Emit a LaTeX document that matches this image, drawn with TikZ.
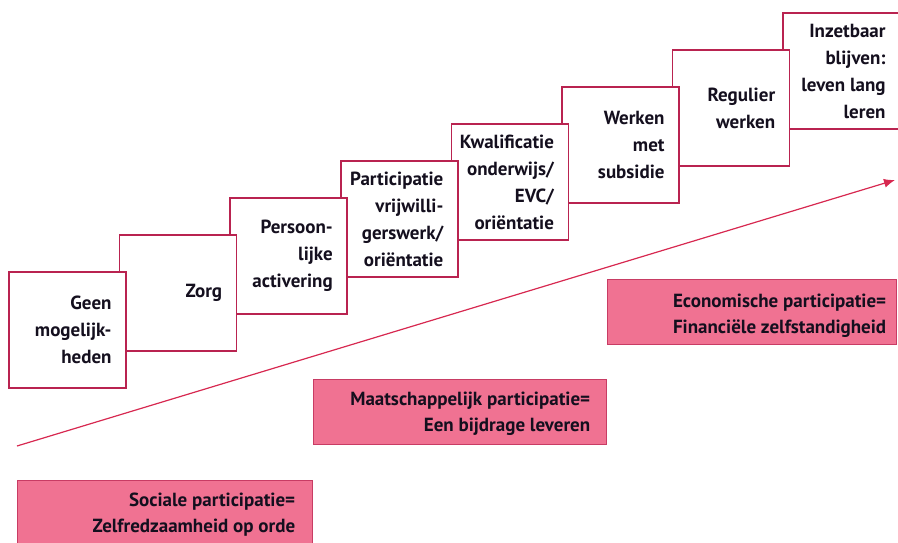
\documentclass[tikz,border=0pt]{standalone}
\usepackage{fontspec}
\setmainfont{PT Sans}
\usetikzlibrary{arrows.meta}
\definecolor{rand}{RGB}{185,35,80}
\definecolor{roze}{RGB}{240,114,146}
\definecolor{vlakrand}{RGB}{200,60,100}
\definecolor{pijlrood}{RGB}{215,40,80}
\definecolor{donker}{RGB}{20,15,30}
\begin{document}
\begin{tikzpicture}[x=1pt, y=-1pt,
    stap/.style={draw=rand, fill=white, line width=1.5pt, minimum width=117pt, minimum height=116pt, inner sep=0pt},
    vlak/.style={draw=vlakrand, fill=roze, line width=0.8pt, minimum height=65pt, inner sep=0pt},
    tekst/.style={anchor=east, align=right, inner sep=0pt, text=donker, font=\bfseries\fontsize{19pt}{27pt}\selectfont}]
        \useasboundingbox (0,0) rectangle (898,542);
        \clip (0,0) rectangle (898,542);
        \node[stap] (b8) at (841.5,71) {};
        \node[stap] (b7) at (731.1,108) {};
        \node[stap] (b6) at (620.5,145) {};
        \node[stap] (b5) at (509.9,182) {};
        \node[stap] (b4) at (399.3,219) {};
        \node[stap] (b3) at (288.7,256) {};
        \node[stap] (b2) at (178.1,293) {};
        \node[stap] (b1) at (67.5,330) {};
        \node[tekst] (t1) at ([xshift=-15pt]b1.east) {Geen\\mogelijk-\\heden};
        \node[tekst] (t2) at ([xshift=-15pt]b2.east) {Zorg};
        \node[tekst] (t3) at ([xshift=-15pt]b3.east) {Persoon-\\lijke\\activering};
        \node[tekst] (t4) at ([xshift=-15pt]b4.east) {Participatie\\vrijwilli-\\gerswerk/\\oriëntatie};
        \node[tekst] (t5) at ([xshift=-15pt]b5.east) {Kwalificatie\\onderwijs/\\EVC/\\oriëntatie};
        \node[tekst] (t6) at ([xshift=-15pt]b6.east) {Werken\\met\\subsidie};
        \node[tekst] (t7) at ([xshift=-15pt]b7.east) {Regulier\\werken};
        \node[tekst] (t8) at ([xshift=-15pt]b8.east) {Inzetbaar\\blijven:\\leven lang\\leren};
        \coordinate (begin) at (17,446);
        \coordinate (eind) at (895,180);
        \draw[pijlrood, line width=1.2pt, -{Latex[length=11pt, width=9pt]}] (begin) -- (eind);
        \node[vlak, minimum width=289pt] (eco) at (751.5,312) {};
        \node[vlak, minimum width=293pt] (maat) at (459.5,411.5) {};
        \node[vlak, minimum width=295pt] (soc) at (164.5,512.5) {};
        \node[tekst, font=\bfseries\fontsize{19pt}{26pt}\selectfont] (ecotekst) at ([xshift=-10pt, yshift=-4pt]eco.east) {Economische participatie=\\Financiële zelfstandigheid};
        \node[tekst, font=\bfseries\fontsize{19pt}{26pt}\selectfont] (maattekst) at ([xshift=-16pt, yshift=-2.5pt]maat.east) {Maatschappelijk participatie=\\Een bijdrage leveren};
        \node[tekst, font=\bfseries\fontsize{19pt}{26pt}\selectfont] (soctekst) at ([xshift=-17pt, yshift=-2.5pt]soc.east) {Sociale participatie=\\Zelfredzaamheid op orde};
    \end{tikzpicture}
\end{document}
